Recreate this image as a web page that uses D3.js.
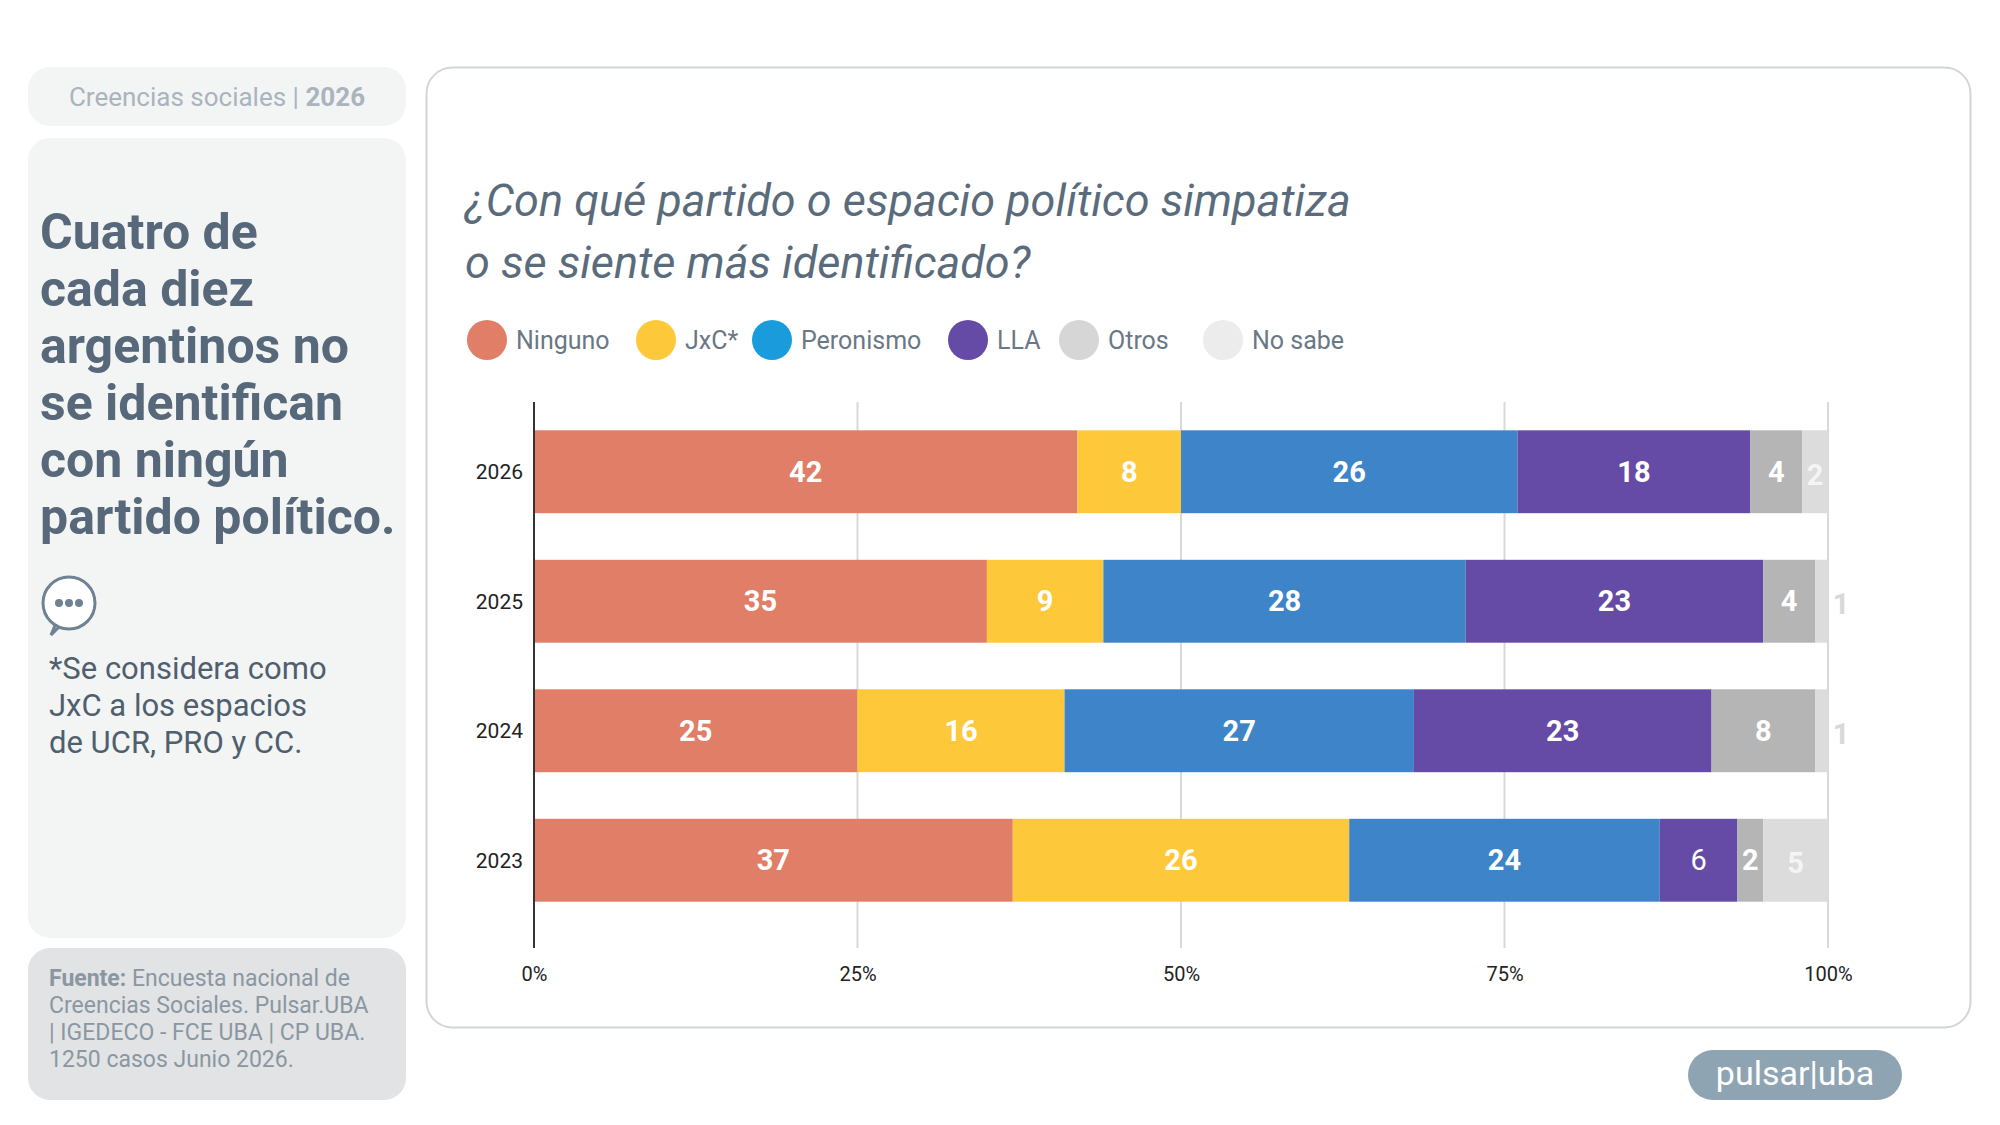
<!DOCTYPE html>
<html><head><meta charset="utf-8">
<script src="https://cdn.jsdelivr.net/npm/d3@7"></script>
<style>body{margin:0;background:#fff}svg{display:block;font-family:Roboto,"Open Sans",sans-serif}</style>
</head><body><svg id="c" width="2000" height="1125"></svg>
<script>
const years = ["2026","2025","2024","2023"];
const series = ["Ninguno","JxC*","Peronismo","LLA","Otros","No sabe"];
const ninguno   = [42,35,25,37];
const jxc       = [8,9,16,26];
const peronismo = [26,28,27,24];
const lla       = [18,23,23,6];
const otros     = [4,4,8,2];
const nosabe    = [2,1,1,5];
const ticks = [0,25,50,75,100];
const barColors = ["#E07E68","#FDC93B","#3D85C8","#654BA6","#B5B5B5","#DCDCDC"];
const legendColors = ["#E07E68","#FDC93B","#1A9BDB","#654BA6","#D6D6D6","#ECECEC"];

const vals = [ninguno,jxc,peronismo,lla,otros,nosabe];
const svg = d3.select("#c");
const rows = years.map((y,i)=>{const o={year:y}; series.forEach((s,j)=>o[s]=vals[j][i]); return o;});
const stack = d3.stack().keys(series)(rows);

// panels
svg.append("rect").attr("x",28).attr("y",67).attr("width",378).attr("height",59).attr("rx",22).attr("fill","#F3F4F4");
svg.append("text").attr("x",217).attr("y",106).attr("text-anchor","middle").attr("font-size",26).attr("fill","#A9B4BE")
  .html('Creencias sociales | <tspan font-weight="bold">2026</tspan>');
svg.append("rect").attr("x",28).attr("y",138).attr("width",378).attr("height",800).attr("rx",22).attr("fill","#F3F4F4");
const head=["Cuatro de","cada diez","argentinos no","se identifican","con ningún","partido político."];
svg.append("g").selectAll("text").data(head).join("text").attr("x",40).attr("y",(d,i)=>249+i*57)
  .attr("font-size",50).attr("font-weight","bold").attr("fill","#566879").text(d=>d);
// speech icon
const ic=svg.append("g").attr("transform","translate(69,603)");
ic.append("path").attr("d","M-8,22 L-18,32 L-12,18 Z").attr("fill","#fff").attr("stroke","#6E8293").attr("stroke-width",3);
ic.append("circle").attr("r",26).attr("fill","#fff").attr("stroke","#6E8293").attr("stroke-width",3);
[-10,0,10].forEach(x=>ic.append("circle").attr("cx",x).attr("r",4).attr("fill","#6E8293"));
const note=["*Se considera como","JxC a los espacios","de UCR, PRO y CC."];
svg.append("g").selectAll("text").data(note).join("text").attr("x",49).attr("y",(d,i)=>679+i*37)
  .attr("font-size",31).attr("fill","#4F5F6E").text(d=>d);
svg.append("rect").attr("x",28).attr("y",948).attr("width",378).attr("height",152).attr("rx",22).attr("fill","#E2E3E4");
const src=['<tspan font-weight="bold">Fuente:</tspan> Encuesta nacional de','Creencias Sociales. Pulsar.UBA','| IGEDECO - FCE UBA | CP UBA.','1250 casos Junio 2026.'];
svg.append("g").selectAll("text").data(src).join("text").attr("x",49).attr("y",(d,i)=>986+i*27)
  .attr("font-size",23).attr("fill","#8A97A3").html(d=>d);

svg.append("rect").attr("x",426.5).attr("y",67.5).attr("width",1544).attr("height",960).attr("rx",26).attr("fill","#fff").attr("stroke","#D3D6D9").attr("stroke-width",2);
svg.append("text").attr("x",465).attr("y",216).attr("font-size",45).attr("font-style","italic").attr("fill","#5A6B7B").text("¿Con qué partido o espacio político simpatiza");
svg.append("text").attr("x",465).attr("y",278).attr("font-size",45).attr("font-style","italic").attr("fill","#5A6B7B").text("o se siente más identificado?");

// legend
const legX=[487,656,772,968,1079,1223];
const lg=svg.append("g").selectAll("g").data(series).join("g").attr("transform",(d,i)=>`translate(${legX[i]},340)`);
lg.append("circle").attr("r",20).attr("fill",(d,i)=>legendColors[i]);
lg.append("text").attr("x",29).attr("y",9).attr("font-size",25).attr("fill","#6A7785").text(d=>d);

// chart
const x=d3.scaleLinear().domain([0,100]).range([534,1828]);
const y=d3.scaleBand().domain(years).range([407,925]).paddingInner(0.36).paddingOuter(0.18);
svg.append("g").selectAll("line").data(ticks.slice(1)).join("line").attr("x1",d=>x(d)).attr("x2",d=>x(d))
  .attr("y1",402).attr("y2",948).attr("stroke","#D9D9D9").attr("stroke-width",2);
const ax=svg.append("g").attr("transform","translate(0,974)").call(d3.axisBottom(x).tickValues(ticks).tickFormat(d=>d+"%").tickSize(0));
ax.select(".domain").remove();
ax.selectAll("text").attr("font-size",20).attr("fill","#222").attr("dy","0.35em").attr("y",0).attr("font-family","Roboto");
const layers=svg.append("g").selectAll("g").data(stack).join("g").attr("fill",(d,i)=>barColors[i]);
layers.selectAll("rect").data(d=>d).join("rect").attr("x",d=>x(d[0])).attr("width",d=>x(d[1])-x(d[0]))
  .attr("y",d=>y(d.data.year)).attr("height",y.bandwidth());
layers.each(function(L,li){
  d3.select(this).selectAll("text").data(L).join("text")
   .attr("x",d=>{const v=d[1]-d[0]; return (li==5&&v<2)? x(d[1])+13 : (x(d[0])+x(d[1]))/2;})
   .attr("y",d=>y(d.data.year)+y.bandwidth()/2+(li==5?3:0)).attr("dy","0.35em").attr("text-anchor","middle")
   .attr("font-size",29).attr("font-weight",d=>(li==3&&d[1]-d[0]<10)?"normal":"bold")
   .attr("fill",d=>li==5?(d[1]-d[0]<2?"#D9D9D9":"#F4F4F4"):"#fff").text(d=>d[1]-d[0]);
});
svg.append("line").attr("x1",x(0)).attr("x2",x(0)).attr("y1",402).attr("y2",948).attr("stroke","#333").attr("stroke-width",2);
svg.append("g").selectAll("text").data(years).join("text").attr("x",523).attr("y",d=>y(d)+y.bandwidth()/2).attr("dy","0.35em")
  .attr("text-anchor","end").attr("font-size",21).attr("fill","#222").text(d=>d);

// logo
svg.append("rect").attr("x",1688).attr("y",1050).attr("width",214).attr("height",50).attr("rx",25).attr("fill","#8FA4B3");
svg.append("text").attr("x",1795).attr("y",1085).attr("text-anchor","middle").attr("font-size",34).attr("fill","#fff").text("pulsar|uba");
</script></body></html>
